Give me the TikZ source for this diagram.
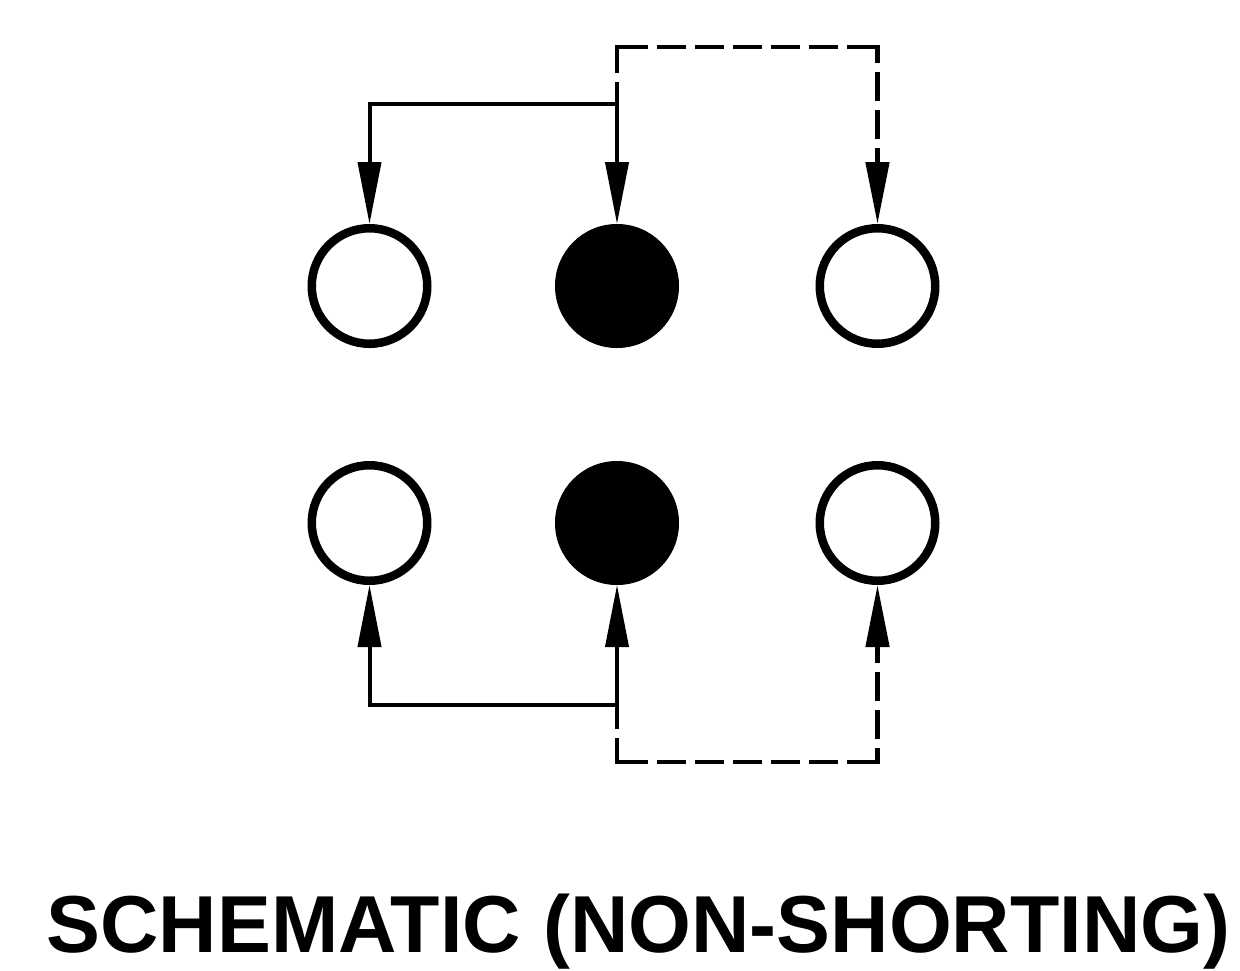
\documentclass[tikz,border=0pt]{standalone}
\usepackage{fontspec}
\setmainfont{Liberation Sans}
\usetikzlibrary{arrows.meta}
\tikzset{
        x=1pt, y=-1pt,
        tip/.style={-{Triangle[length=62pt, width=23pt]}, line width=4pt},
        dashwire/.style={line width=4.8pt, line cap=rect, dash pattern=on 24.2pt off 13.8pt, dash phase=#1},
        open/.style={circle, draw=black, line width=8.5pt, fill=white, minimum size=115.5pt, inner sep=0pt},
        closed/.style={circle, draw=black, line width=1pt, fill=black, minimum size=123pt, inner sep=0pt},
        caption/.style={font=\bfseries\fontsize{80.8pt}{81pt}\selectfont, inner sep=0pt, anchor=base}
          }
\begin{document}
\begin{tikzpicture}
        \useasboundingbox (0,0) rectangle (1240,970);
        % upper row
        \node[open] (ul) at (369.5,286) {};
        \node[closed] (um) at (617,286) {};
        \node[open] (ur) at (877.5,286) {};
        % lower row
        \node[open] (ll) at (369.5,523) {};
        \node[closed] (lm) at (617,523) {};
        \node[open] (lr) at (877.5,523) {};
        % junctions
        \coordinate (utop) at (617,104);
        \coordinate (ubend) at (369.5,104);
        \coordinate (udash) at (617,47);
        \coordinate (udashr) at (877.5,47);
        \coordinate (ltop) at (617,705);
        \coordinate (lbend) at (369.5,705);
        \coordinate (ldash) at (617,762);
        \coordinate (ldashr) at (877.5,762);
        % upper connectors
        \draw[tip] (utop) -- (ubend) -- (ul.north);
        \draw[tip] (utop) -- (um.north);
        \draw[dashwire=0.6] (udash) -- (utop);
        \draw[dashwire=34.1] (udash) -- (udashr);
        \draw[dashwire=10.6, tip, line width=4.8pt] (udashr) -- (ur.north);
        % lower connectors
        \draw[tip] (ltop) -- (lbend) -- (ll.south);
        \draw[tip] (ltop) -- (lm.south);
        \draw[dashwire=2.6] (ldash) -- (ltop);
        \draw[dashwire=34.1] (ldash) -- (ldashr);
        \draw[dashwire=12.6, tip, line width=4.8pt] (ldashr) -- (lr.south);
        \node[caption] (title) at (638.5,952) {SCHEMATIC (NON-SHORTING)};
\end{tikzpicture}
\end{document}
